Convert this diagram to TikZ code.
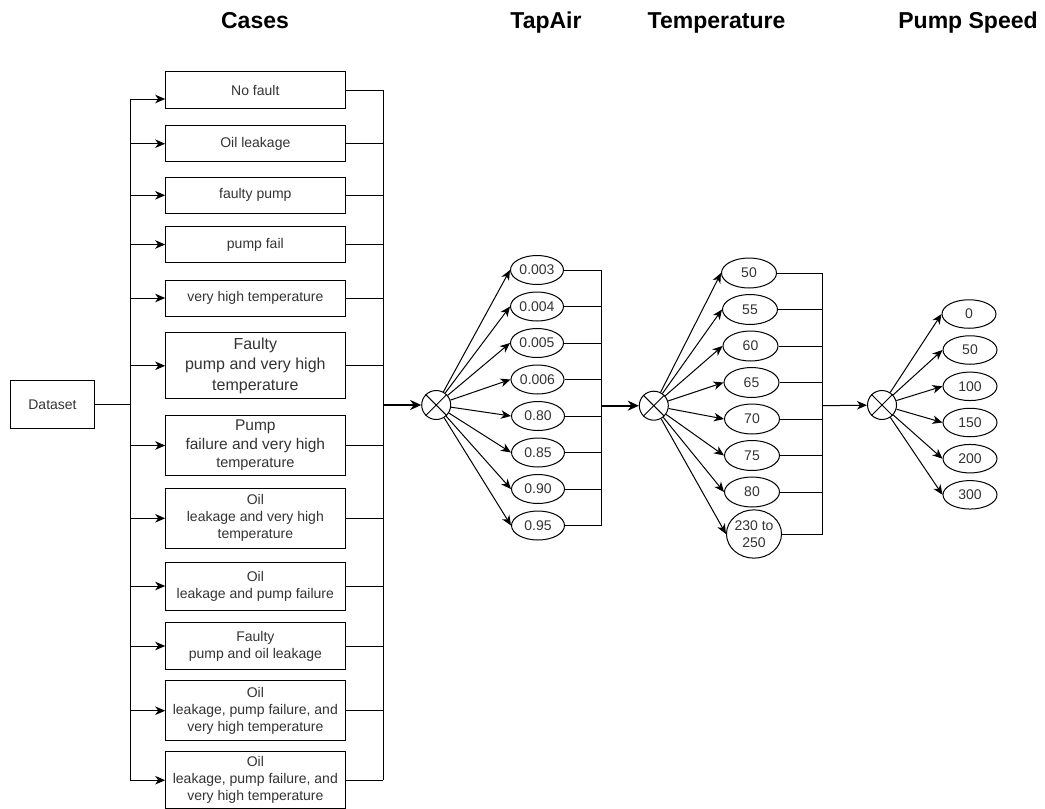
\documentclass[tikz,border=0pt]{standalone}
\usepackage{fontspec}
\setmainfont{Liberation Sans}
\usetikzlibrary{shapes.geometric,arrows.meta}
\definecolor{txt}{HTML}{333333}
\begin{document}
\begin{tikzpicture}[x=1pt,y=-1pt,line width=1pt,
  every node/.style={text=txt, font=\fontsize{14}{17}\selectfont},
  casebox/.style={draw, rectangle, minimum width=179.3pt, inner sep=0pt, align=center},
  val/.style={draw, ellipse, inner sep=0pt, minimum width=53pt, minimum height=29pt},
  tval/.style={draw, ellipse, inner sep=0pt, minimum width=55pt, minimum height=30pt},
  pval/.style={draw, ellipse, inner sep=0pt, minimum width=54pt, minimum height=28.5pt},
  mixer/.style={draw, circle, minimum size=29pt, inner sep=0pt},
  arr/.style={-{Stealth[length=10pt,width=8.5pt,inset=3pt]}},
  thickarr/.style={line width=2pt,-{Stealth[length=11pt,width=10pt,inset=3.5pt]}},
  title/.style={font=\fontsize{23}{27}\selectfont\bfseries, text=black, anchor=base}]
\useasboundingbox (0,0) rectangle (1045,809);

% titles
\node[title] (tcases) at (255,28) {Cases};
\node[title] (ttap) at (546,28) {TapAir};
\node[title] (ttemp) at (716.5,28) {Temperature};
\node[title] (tpump) at (968,28) {Pump Speed};

% dataset
\node[draw, rectangle, minimum width=83.6pt, minimum height=47.6pt, inner sep=0pt] (ds) at (52.5,404.5) {Dataset};

% case boxes
\node[casebox, minimum height=36.6pt] (c1) at (255.35,90) {No fault};
\node[casebox, minimum height=36pt] (c2) at (255.35,143.7) {Oil leakage};
\node[casebox, minimum height=36pt] (c3) at (255.35,195.3) {faulty pump};
\node[casebox, minimum height=35.6pt] (c4) at (255.35,244.5) {pump fail};
\node[casebox, minimum height=36pt] (c5) at (255.35,298) {very high temperature};
\node[casebox, minimum height=66.3pt, font=\fontsize{16}{20.5}\selectfont] (c6) at (255.35,365.8) {Faulty\\pump and very high\\temperature};
\node[casebox, minimum height=59.6pt, font=\fontsize{15.5}{18.5}\selectfont] (c7) at (255.35,445.5) {Pump\\failure and very high\\{\fontsize{14.5}{17}\selectfont temperature}};
\node[casebox, minimum height=60pt] (c8) at (255.35,518.3) {Oil\\leakage and very high\\temperature};
\node[casebox, minimum height=48pt] (c9) at (255.35,586) {Oil\\leakage and pump failure};
\node[casebox, minimum height=47.7pt] (c10) at (255.35,646) {Faulty\\pump and oil leakage};
\node[casebox, minimum height=60pt] (c11) at (255.35,710.7) {Oil\\leakage, pump failure, and\\very high temperature};
\node[casebox, minimum height=56.5pt] (c12) at (255.35,780.2) {Oil\\leakage, pump failure, and\\very high temperature};

% trunk coordinates
\coordinate (lt) at (130,404.3);
\coordinate (nf) at (130,99);
\coordinate (rt) at (383.3,405);

% left trunk
\draw (ds.east) -- (ds.east -| lt);
\draw (nf) -- (c12.west -| lt);
\draw[arr] (nf) -- (nf -| c1.west);
\foreach \i in {2,...,12} {\draw[arr] (c\i.west -| lt) -- (c\i.west);}

% right trunk
\draw (c1.east -| rt) -- (c12.east -| rt);
\foreach \i in {1,...,12} {\draw (c\i.east) -- (c\i.east -| rt);}

% mixers
\node[mixer] (m1) at (436.2,405) {};
\node[mixer] (m2) at (653.8,405.7) {};
\node[mixer] (m3) at (882,405) {};
\foreach \m in {m1,m2,m3} {\draw (\m.45) -- (\m.225) (\m.135) -- (\m.315);}

\draw[thickarr] (rt) -- (m1);

% TapAir values
\node[val] (a1) at (537,270) {0.003};
\node[val] (a2) at (537,306.5) {0.004};
\node[val] (a3) at (537,343) {0.005};
\node[val] (a4) at (537.5,379.5) {0.006};
\node[val] (a5) at (538,416) {0.80};
\node[val] (a6) at (538,452.5) {0.85};
\node[val] (a7) at (538,489) {0.90};
\node[val] (a8) at (538,525.5) {0.95};
\coordinate (at) at (601.5,405.7);
\foreach \i in {1,...,8} {\draw[arr] (m1) -- (a\i.west); \draw (a\i.east) -- (a\i.east -| at);}
\draw (a1.east -| at) -- (a8.east -| at);
\draw[thickarr] (at) -- (m2);

% Temperature values
\node[tval] (b1) at (749,273) {50};
\node[tval] (b2) at (750,309.5) {55};
\node[tval] (b3) at (750.5,346) {60};
\node[tval] (b4) at (751.5,382.5) {65};
\node[tval] (b5) at (752,419) {70};
\node[tval] (b6) at (752,455.5) {75};
\node[tval] (b7) at (752,492) {80};
\node[draw, ellipse, inner sep=0pt, minimum width=53.5pt, minimum height=48.3pt, align=center] (b8) at (754,534) {230 to\\250};
\coordinate (bt) at (822.7,405.7);
\foreach \i in {1,...,8} {\draw[arr] (m2) -- (b\i.west); \draw (b\i.east) -- (b\i.east -| bt);}
\draw (b1.east -| bt) -- (b8.east -| bt);
\draw[arr] (bt) -- (m3);

% Pump speed values
\node[pval] (p1) at (969,314) {0};
\node[pval] (p2) at (970,350) {50};
\node[pval] (p3) at (970,386.3) {100};
\node[pval] (p4) at (970,422.5) {150};
\node[pval] (p5) at (970,458.7) {200};
\node[pval] (p6) at (970,494.8) {300};
\foreach \i in {1,...,6} {\draw[arr] (m3) -- (p\i.west);}
\end{tikzpicture}
\end{document}
